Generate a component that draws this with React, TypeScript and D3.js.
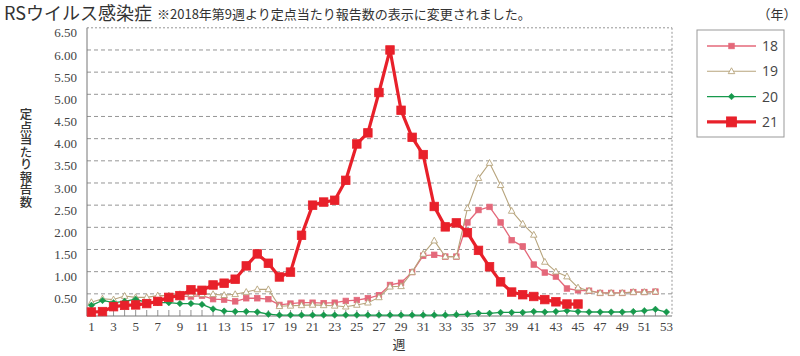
import React from "react";
import * as d3 from "d3";

const weeks = d3.range(1, 54);
const xTickLabels = d3.range(1, 54, 2);
const yTicks = [0.5, 1, 1.5, 2, 2.5, 3, 3.5, 4, 4.5, 5, 5.5, 6, 6.5];

// values by week, starting at startWeek
const s18Start = 9;
const s18 = [0.45, 0.44, 0.46, 0.38, 0.37, 0.33, 0.40, 0.40, 0.38, 0.25, 0.28, 0.30, 0.30, 0.29, 0.30, 0.34, 0.36, 0.40, 0.47, 0.70, 0.75, 0.99, 1.36, 1.38, 1.34, 1.34, 2.11, 2.39, 2.46, 2.11, 1.71, 1.57, 1.16, 0.98, 0.89, 0.62, 0.58, 0.57, 0.52, 0.52, 0.52, 0.54, 0.54, 0.55];
const s19Start = 1;
const s19 = [0.31, 0.39, 0.37, 0.45, 0.42, 0.42, 0.46, 0.46, 0.49, 0.49, 0.49, 0.49, 0.47, 0.49, 0.54, 0.60, 0.60, 0.22, 0.23, 0.24, 0.25, 0.24, 0.23, 0.21, 0.25, 0.30, 0.42, 0.66, 0.67, 0.99, 1.40, 1.70, 1.34, 1.34, 2.43, 3.11, 3.45, 2.95, 2.37, 2.08, 1.83, 1.22, 1.00, 0.89, 0.64, 0.57, 0.52, 0.52, 0.52, 0.54, 0.54, 0.55];
const s20Start = 1;
const s20 = [0.24, 0.35, 0.30, 0.33, 0.38, 0.30, 0.30, 0.30, 0.28, 0.28, 0.26, 0.16, 0.11, 0.10, 0.10, 0.09, 0.04, 0.02, 0.02, 0.02, 0.02, 0.02, 0.02, 0.02, 0.02, 0.02, 0.02, 0.02, 0.02, 0.02, 0.02, 0.02, 0.02, 0.03, 0.04, 0.06, 0.06, 0.08, 0.08, 0.08, 0.10, 0.09, 0.10, 0.12, 0.10, 0.09, 0.09, 0.09, 0.09, 0.10, 0.12, 0.15, 0.09];
const s21Start = 1;
const s21 = [0.09, 0.10, 0.21, 0.24, 0.25, 0.28, 0.33, 0.42, 0.46, 0.59, 0.58, 0.70, 0.74, 0.83, 1.13, 1.40, 1.19, 0.88, 0.99, 1.82, 2.50, 2.57, 2.61, 3.06, 3.88, 4.13, 5.04, 6.00, 4.64, 4.03, 3.64, 2.47, 2.01, 2.10, 1.88, 1.48, 1.11, 0.77, 0.54, 0.48, 0.44, 0.37, 0.32, 0.27, 0.27];

const seriesNames = ["18", "19", "20", "21"];
const yTitle = "定点当たり報告数";

type Pt = { w: number; v: number };
const toPts = (start: number, vals: number[]): Pt[] => vals.map((v, i) => ({ w: start + i, v }));

const W = 800;
const H = 356;
const plot = { left: 87, right: 672, top: 27.8, bottom: 316 };

const x = d3.scaleLinear().domain([0.6, 53.5]).range([plot.left, plot.right]);
const y = d3.scaleLinear().domain([0, 6.5]).range([plot.bottom, plot.top]);

const line = d3
  .line<Pt>()
  .x((d) => x(d.w))
  .y((d) => y(d.v));

const styles = [
  { color: "#e4687a", width: 1.3, marker: "square", size: 5.5, fill: "#e4687a" },
  { color: "#b7a47c", width: 1.1, marker: "triangle", size: 6.5, fill: "#ffffff" },
  { color: "#17994c", width: 1.3, marker: "diamond", size: 5.5, fill: "#17994c" },
  { color: "#e8202a", width: 3.2, marker: "square", size: 8.5, fill: "#e8202a" },
];

function Marker({ kind, cx, cy, size, color, fill }: any) {
  if (kind === "square") {
    return <rect x={cx - size / 2} y={cy - size / 2} width={size} height={size} fill={fill} stroke={color} strokeWidth={0.8} />;
  }
  if (kind === "triangle") {
    const h = size * 0.9;
    const p = `${cx},${cy - h * 0.6} ${cx + size / 2},${cy + h * 0.4} ${cx - size / 2},${cy + h * 0.4}`;
    return <polygon points={p} fill={fill} stroke={color} strokeWidth={0.9} />;
  }
  const r = size / 2 + 0.5;
  const p = `${cx},${cy - r} ${cx + r},${cy} ${cx},${cy + r} ${cx - r},${cy}`;
  return <polygon points={p} fill={fill} stroke={color} strokeWidth={0.5} />;
}

export default function App() {
  const data = [toPts(s18Start, s18), toPts(s19Start, s19), toPts(s20Start, s20), toPts(s21Start, s21)];
  const serif = "'Liberation Serif', 'DejaVu Serif', serif";
  const cjk = "'Noto Sans CJK JP', 'Noto Sans', sans-serif";
  return (
    <svg width={W} height={H} style={{ position: "absolute", left: 0, top: 0, background: "#fff" }}>
      <rect x={0} y={0} width={W} height={H} fill="#fff" />
      {/* Title */}
      <text x={4} y={20} fontFamily={cjk} fontSize={18} fill="#333">RSウイルス感染症</text>
      <text x={157} y={19} fontFamily={cjk} fontSize={13} fill="#333">※2018年第9週より定点当たり報告数の表示に変更されました。</text>

      {/* gridlines */}
      {yTicks.map((t) => (
        <line key={t} x1={plot.left} x2={plot.right} y1={y(t)} y2={y(t)} stroke="#8a8a8a" strokeWidth={0.9}
          strokeDasharray={t === 6.5 ? "2,2" : "4,3"} />
      ))}
      <line x1={plot.right} x2={plot.right} y1={plot.top} y2={plot.bottom} stroke="#8a8a8a" strokeWidth={0.9} strokeDasharray="2,2" />
      <line x1={plot.left} x2={plot.left} y1={plot.top} y2={plot.bottom} stroke="#777" strokeWidth={1} />
      <line x1={plot.left} x2={plot.right} y1={plot.bottom} y2={plot.bottom} stroke="#777" strokeWidth={1} />
      {weeks.map((w) => (
        <line key={w} x1={x(w)} x2={x(w)} y1={plot.bottom} y2={plot.bottom - 6} stroke="#777" strokeWidth={0.8} />
      ))}

      {/* y labels */}
      {yTicks.map((t) => (
        <text key={t} x={77} y={y(t) + 5} dy="0.35em" textAnchor="end" fontFamily={serif} fontSize={13} fill="#444">
          {t.toFixed(2)}
        </text>
      ))}
      {/* x labels */}
      {xTickLabels.map((w) => (
        <text key={w} x={x(w)} y={331} textAnchor="middle" fontFamily={serif} fontSize={13} fill="#444">
          {w}
        </text>
      ))}
      <text x={399} y={349} textAnchor="middle" fontFamily={cjk} fontSize={13} fill="#333">週</text>
      <text x={26} y={108} fontFamily={cjk} fontSize={12.5} fontWeight={500} fill="#333"
        style={{ writingMode: "vertical-rl" as any, textOrientation: "upright" as any }}>
        {yTitle}
      </text>

      {/* series */}
      {data.map((pts, si) => {
        const s = styles[si];
        return (
          <g key={si}>
            <path d={line(pts) || ""} fill="none" stroke={s.color} strokeWidth={s.width} strokeLinejoin="round" />
            {pts.map((p) => (
              <Marker key={p.w} kind={s.marker} cx={x(p.w)} cy={y(p.v)} size={s.size} color={s.color} fill={s.fill} />
            ))}
          </g>
        );
      })}

      {/* legend */}
      <text x={777} y={19} textAnchor="middle" fontFamily={cjk} fontSize={13} fill="#333">（年）</text>
      <rect x={697} y={30} width={87} height={107} fill="#fff" stroke="#999" strokeWidth={1} />
      {seriesNames.map((n, i) => {
        const s = styles[i];
        const ly = 46 + i * 25.3;
        return (
          <g key={n}>
            <line x1={707} x2={756} y1={ly} y2={ly} stroke={s.color} strokeWidth={s.width} />
            <Marker kind={s.marker} cx={731.5} cy={ly} size={i === 3 ? 10 : s.size} color={s.color} fill={s.fill} />
            <text x={762} y={ly} dy="0.35em" fontFamily="'Open Sans', 'Noto Sans', sans-serif" fontSize={14} fill="#444">{n}</text>
          </g>
        );
      })}
    </svg>
  );
}
